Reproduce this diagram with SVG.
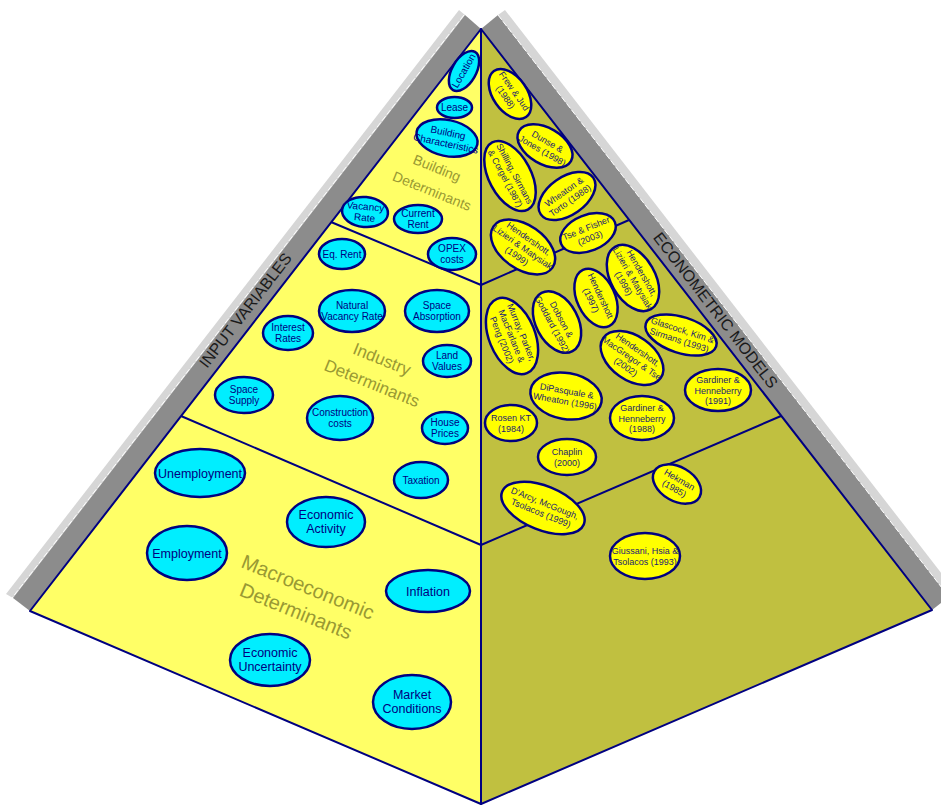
<svg xmlns="http://www.w3.org/2000/svg" width="941" height="807" viewBox="0 0 941 807">
<style>
.bg{fill:#ffffff}
.fl{fill:#FFFF66;stroke:#000080;stroke-width:2;stroke-linejoin:round}
.fr{fill:#C0C040;stroke:#000080;stroke-width:2;stroke-linejoin:round}
.dark{fill:#8c8c8c}
.light{fill:#d6d6d6}
.hl{stroke:#ffffff;stroke-width:1;stroke-dasharray:6 2;fill:none}
.div{stroke:#000080;stroke-width:2;fill:none}
.c ellipse{fill:#00EEFF;stroke:#000080;stroke-width:2.5}
.y ellipse{fill:#FFFF00;stroke:#000080;stroke-width:2.5}
text{font-family:"Liberation Sans",Arial,sans-serif;text-anchor:middle}
.c text{fill:#000080;font-size:10px}
.c .m{font-size:12.5px}
.y text{fill:#1c1c70;font-size:9px}
.lbl{fill:#999933}
.edge{fill:#1a1a1a;font-size:16px}
</style>
<rect class="bg" x="0" y="0" width="941" height="807"/>
<g id="frame">
  <polygon class="light" points="465,15 13,598 6,594 459,10"/>
  <polygon class="dark" points="481,29 30,611 13,598 465,15"/>
  <line class="hl" x1="464" y1="15" x2="12" y2="598"/>
  <polygon class="light" points="498,15 949,597 956,592 505,10"/>
  <polygon class="dark" points="481,29 932,610 949,597 498,15"/>
  <line class="hl" x1="498" y1="15" x2="949" y2="597"/>
  <text class="edge" transform="translate(245,310) rotate(-52.3)" y="6">INPUT VARIABLES</text>
  <text class="edge" transform="translate(716,310) rotate(52.2)" y="6">ECONOMETRIC MODELS</text>
</g>
<g id="faces">
  <polygon class="fl" points="481,29 30,611 481,804"/>
  <polygon class="fr" points="481,29 932,610 481,804"/>
</g>
<g id="connectors">
  <line class="div" x1="331" y1="222" x2="481" y2="285"/>
  <line class="div" x1="181" y1="416" x2="481" y2="545"/>
  <line class="div" x1="481" y1="285" x2="629" y2="220"/>
  <line class="div" x1="481" y1="545" x2="781" y2="416"/>
</g>
<g id="labels" class="lbl">
  <text font-size="14" transform="translate(437,168) rotate(22)" y="5">Building</text>
  <text font-size="14" transform="translate(432,191) rotate(22)" y="5">Determinants</text>
  <text font-size="17" transform="translate(382,359) rotate(22)" y="6">Industry</text>
  <text font-size="17" transform="translate(372,383) rotate(22)" y="6">Determinants</text>
  <text font-size="20" transform="translate(308,587) rotate(22)" y="7">Macroeconomic</text>
  <text font-size="20" transform="translate(296,611) rotate(22)" y="7">Determinants</text>
</g>
<g id="input-nodes">
  <g id="n-location" class="c" transform="translate(464,71) rotate(-60)"><ellipse rx="22" ry="12"/><text font-size="9" y="3">Location</text></g>
  <g id="n-lease" class="c" transform="translate(454.5,107.5)"><ellipse rx="17.5" ry="10.5"/><text y="3.5">Lease</text></g>
  <g id="n-building-characteristics" class="c" transform="translate(447,138) rotate(12)"><ellipse rx="31" ry="18"/><text y="-2">Building</text><text y="9" font-size="9.5">Characteristics</text></g>
  <g id="n-vacancy-rate" class="c" transform="translate(365,212) rotate(5)"><ellipse rx="23" ry="15"/><text y="-2">Vacancy</text><text y="9">Rate</text></g>
  <g id="n-current-rent" class="c" transform="translate(418,219)"><ellipse rx="24" ry="14"/><text y="-2">Current</text><text y="9">Rent</text></g>
  <g id="n-opex" class="c" transform="translate(452,254)"><ellipse rx="24" ry="16"/><text y="-2">OPEX</text><text y="9">costs</text></g>
  <g id="n-eq-rent" class="c" transform="translate(342,254)"><ellipse rx="23" ry="15"/><text y="3.5">Eq. Rent</text></g>
  <g id="n-natural-vacancy" class="c" transform="translate(352,311)"><ellipse rx="33" ry="21"/><text y="-2">Natural</text><text y="9">Vacancy Rate</text></g>
  <g id="n-space-absorption" class="c" transform="translate(437,311)"><ellipse rx="32" ry="21"/><text y="-2">Space</text><text y="9">Absorption</text></g>
  <g id="n-interest-rates" class="c" transform="translate(288,333)"><ellipse rx="25" ry="17"/><text y="-2">Interest</text><text y="9">Rates</text></g>
  <g id="n-land-values" class="c" transform="translate(447,361)"><ellipse rx="24" ry="16"/><text y="-2">Land</text><text y="9">Values</text></g>
  <g id="n-space-supply" class="c" transform="translate(244,395)"><ellipse rx="29" ry="18"/><text y="-2">Space</text><text y="9">Supply</text></g>
  <g id="n-construction-costs" class="c" transform="translate(340,418)"><ellipse rx="33" ry="22"/><text y="-2" font-size="9.5">Construction</text><text y="9">costs</text></g>
  <g id="n-house-prices" class="c" transform="translate(445,428)"><ellipse rx="23" ry="16"/><text y="-2">House</text><text y="9">Prices</text></g>
  <g id="n-taxation" class="c" transform="translate(421,480)"><ellipse rx="27" ry="18"/><text y="3.5">Taxation</text></g>
  <g id="n-unemployment" class="c" transform="translate(200,473)"><ellipse rx="45" ry="24"/><text class="m" y="4.5">Unemployment</text></g>
  <g id="n-economic-activity" class="c" transform="translate(326,522)"><ellipse rx="39" ry="25"/><text class="m" y="-3">Economic</text><text class="m" y="11">Activity</text></g>
  <g id="n-employment" class="c" transform="translate(187,553)"><ellipse rx="40" ry="27"/><text class="m" y="4.5">Employment</text></g>
  <g id="n-inflation" class="c" transform="translate(428,591)"><ellipse rx="42" ry="21"/><text class="m" y="4.5">Inflation</text></g>
  <g id="n-economic-uncertainty" class="c" transform="translate(270,660)"><ellipse rx="40" ry="26"/><text class="m" y="-3">Economic</text><text class="m" y="11">Uncertainty</text></g>
  <g id="n-market-conditions" class="c" transform="translate(412,702)"><ellipse rx="39" ry="27"/><text class="m" y="-3">Market</text><text class="m" y="11">Conditions</text></g>
</g>
<g id="model-nodes">
  <g id="m-frew-jud" class="y" transform="translate(510,94) rotate(55)"><ellipse rx="28" ry="17"/><text y="-2">Frew &amp; Jud</text><text y="8.5">(1988)</text></g>
  <g id="m-dunse-jones" class="y" transform="translate(545,146) rotate(30)"><ellipse rx="30" ry="18"/><text y="-2">Dunse &amp;</text><text y="8.5">Jones (1998)</text></g>
  <g id="m-shilling" class="y" transform="translate(510,176) rotate(62)"><ellipse rx="38" ry="21"/><text y="-2">Shilling, Sirmans</text><text y="8.5">&amp; Corgel (1987)</text></g>
  <g id="m-wheaton-torto" class="y" transform="translate(567,196) rotate(-35)"><ellipse rx="32" ry="19"/><text y="-2">Wheaton &amp;</text><text y="8.5">Torto (1988)</text></g>
  <g id="m-hendershott-1999" class="y" transform="translate(523,247) rotate(35)"><ellipse rx="36" ry="22"/><text y="-7">Hendershott,</text><text y="3.5">Lizieri &amp; Matysiak</text><text y="14">(1999)</text></g>
  <g id="m-tse-fisher" class="y" transform="translate(588,233) rotate(-22)"><ellipse rx="29" ry="18"/><text y="-2">Tse &amp; Fisher</text><text y="8.5">(2003)</text></g>
  <g id="m-hendershott-1996" class="y" transform="translate(633,278) rotate(60)"><ellipse rx="36" ry="22"/><text y="-7">Hendershott,</text><text y="3.5">Lizieri &amp; Matysiak</text><text y="14">(1996)</text></g>
  <g id="m-hendershott-1997" class="y" transform="translate(596,298) rotate(65)"><ellipse rx="31" ry="19"/><text y="-2">Hendershott</text><text y="8.5">(1997)</text></g>
  <g id="m-dobson-goddard" class="y" transform="translate(557,322) rotate(62)"><ellipse rx="33" ry="21"/><text y="-2">Dobson &amp;</text><text y="8.5">Goddard (1992)</text></g>
  <g id="m-murray" class="y" transform="translate(512,336) rotate(68)"><ellipse rx="40" ry="23"/><text y="-7">Murray, Parker,</text><text y="3.5">MacFarlane &amp;</text><text y="14">Peng (2002)</text></g>
  <g id="m-hendershott-2002" class="y" transform="translate(632,358) rotate(35)"><ellipse rx="35" ry="22"/><text y="-7">Hendershott,</text><text y="3.5">MacGregor &amp; Tse</text><text y="14">(2002)</text></g>
  <g id="m-glascock" class="y" transform="translate(681,335) rotate(18)"><ellipse rx="37" ry="18"/><text y="-2">Glascock, Kim &amp;</text><text y="8.5">Sirmans (1993)</text></g>
  <g id="m-gardiner-1991" class="y" transform="translate(718,390)"><ellipse rx="33" ry="21"/><text y="-7">Gardiner &amp;</text><text y="3.5">Henneberry</text><text y="14">(1991)</text></g>
  <g id="m-gardiner-1988" class="y" transform="translate(642,418)"><ellipse rx="32" ry="22"/><text y="-7">Gardiner &amp;</text><text y="3.5">Henneberry</text><text y="14">(1988)</text></g>
  <g id="m-dipasquale" class="y" transform="translate(566,396) rotate(10)"><ellipse rx="36" ry="23"/><text y="-2">DiPasquale &amp;</text><text y="8.5">Wheaton (1996)</text></g>
  <g id="m-rosen" class="y" transform="translate(511,423)"><ellipse rx="26" ry="18"/><text y="-2">Rosen KT</text><text y="8.5">(1984)</text></g>
  <g id="m-chaplin" class="y" transform="translate(567,457)"><ellipse rx="29" ry="18"/><text y="-2">Chaplin</text><text y="8.5">(2000)</text></g>
  <g id="m-hekman" class="y" transform="translate(677,484) rotate(30)"><ellipse rx="26" ry="17"/><text y="-2">Hekman</text><text y="8.5">(1985)</text></g>
  <g id="m-darcy" class="y" transform="translate(543,508) rotate(22)"><ellipse rx="44" ry="22"/><text y="-2">D'Arcy, McGough,</text><text y="8.5">Tsolacos (1999)</text></g>
  <g id="m-giussani" class="y" transform="translate(645,556)"><ellipse rx="35" ry="23"/><text y="-2">Giussani, Hsia &amp;</text><text y="8.5">Tsolacos (1993)</text></g>
</g>
</svg>
